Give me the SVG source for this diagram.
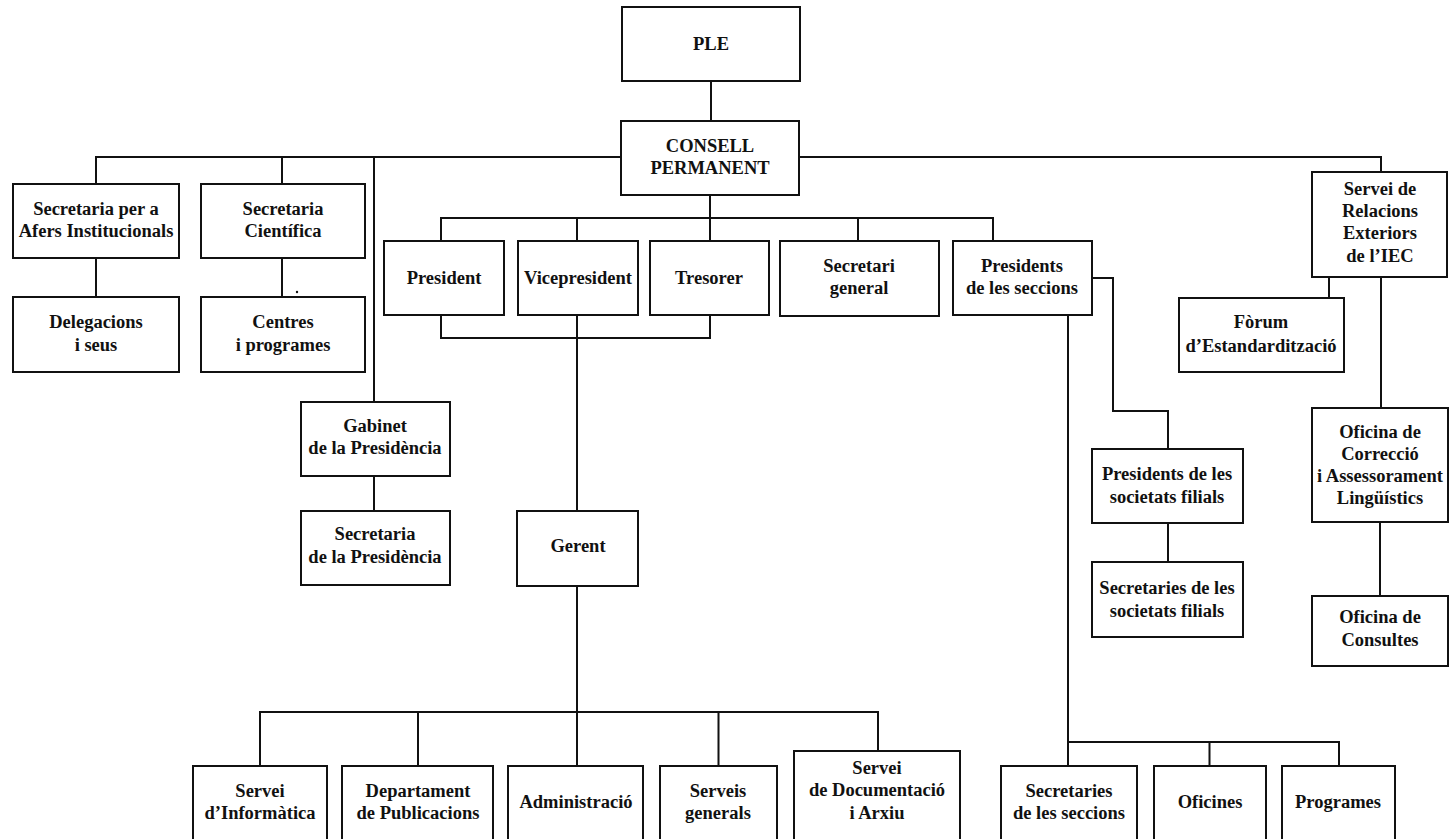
<svg xmlns="http://www.w3.org/2000/svg" width="1451" height="839" viewBox="0 0 1451 839">
<style>
.box{fill:#fff;stroke:#111;stroke-width:2}
.c{fill:none;stroke:#111;stroke-width:2}
text{font-family:"Liberation Serif","Times New Roman",serif;font-weight:bold;font-size:18.5px;text-anchor:middle;fill:#111}
</style>
<rect width="1451" height="839" fill="#fff"/>
<g id="connectors">
<path class="c" d="M711 81V121"/>
<path class="c" d="M96 184V157H621M282 157V184M374 157V402"/>
<path class="c" d="M799 157H1381V172"/>
<path class="c" d="M96 258V297M282 258V297"/>
<path class="c" d="M374 476V511"/>
<path class="c" d="M710 195V218M441 241V218H993V241M577 218V241M858 218V241M710 218V241"/>
<path class="c" d="M441 315V338H710V315M577 315V511"/>
<path class="c" d="M577 586V712M260 766V712H878V751M418 712V766M577 712V766M718.5 712V766"/>
<path class="c" d="M1068 315V766M1068 742H1339V766M1209.5 742V766"/>
<path class="c" d="M1092 278H1113V411H1168V449M1168 523V562"/>
<path class="c" d="M1329 277V298M1381 277V408M1380 522V596"/>
</g>
<g id="ple"><rect class="box" x="622" y="7" width="178" height="74"/><text x="711" y="50">PLE</text></g>
<g id="consell"><rect class="box" x="621" y="121" width="178" height="74"/><text x="710" y="152">CONSELL</text><text x="710" y="174">PERMANENT</text></g>
<g id="sec-afers"><rect class="box" x="13" y="184" width="166" height="74"/><text x="96" y="215">Secretaria per a</text><text x="96" y="237">Afers Institucionals</text></g>
<g id="sec-cientifica"><rect class="box" x="201" y="184" width="164" height="74"/><text x="283" y="215">Secretaria</text><text x="283" y="237">Científica</text></g>
<g id="delegacions"><rect class="box" x="13" y="297" width="166" height="75"/><text x="96" y="328">Delegacions</text><text x="96" y="351">i seus</text></g>
<g id="centres"><rect class="box" x="201" y="297" width="164" height="75"/><text x="283" y="328">Centres</text><text x="283" y="351">i programes</text><circle cx="297" cy="292" r="1.2" fill="#111"/></g>
<g id="president"><rect class="box" x="384" y="241" width="120" height="74"/><text x="444" y="284">President</text></g>
<g id="vicepresident"><rect class="box" x="518" y="241" width="120" height="74"/><text x="578" y="284">Vicepresident</text></g>
<g id="tresorer"><rect class="box" x="650" y="241" width="119" height="74"/><text x="709" y="284">Tresorer</text></g>
<g id="secretari-general"><rect class="box" x="780" y="241" width="159" height="75"/><text x="859" y="272">Secretari</text><text x="859" y="294">general</text></g>
<g id="presidents-seccions"><rect class="box" x="953" y="241" width="139" height="74"/><text x="1022" y="272">Presidents</text><text x="1022" y="294">de les seccions</text></g>
<g id="servei-relacions"><rect class="box" x="1312" y="172" width="135" height="105"/><text x="1380" y="195">Servei de</text><text x="1380" y="217">Relacions</text><text x="1380" y="239">Exteriors</text><text x="1380" y="262">de l’IEC</text></g>
<g id="forum"><rect class="box" x="1179" y="298" width="165" height="74"/><text x="1261" y="328">Fòrum</text><text x="1261" y="352">d’Estandardització</text></g>
<g id="oficina-correccio"><rect class="box" x="1312" y="408" width="136" height="114"/><text x="1380" y="438">Oficina de</text><text x="1380" y="460">Correcció</text><text x="1380" y="482">i Assessorament</text><text x="1380" y="504">Lingüístics</text></g>
<g id="oficina-consultes"><rect class="box" x="1312" y="596" width="136" height="70"/><text x="1380" y="623">Oficina de</text><text x="1380" y="646">Consultes</text></g>
<g id="gabinet"><rect class="box" x="301" y="402" width="149" height="74"/><text x="375" y="432">Gabinet</text><text x="375" y="454">de la Presidència</text></g>
<g id="sec-presidencia"><rect class="box" x="301" y="511" width="149" height="74"/><text x="375" y="540">Secretaria</text><text x="375" y="563">de la Presidència</text></g>
<g id="gerent"><rect class="box" x="517" y="511" width="121" height="75"/><text x="578" y="552">Gerent</text></g>
<g id="presidents-societats"><rect class="box" x="1092" y="449" width="151" height="74"/><text x="1167" y="480">Presidents de les</text><text x="1167" y="503">societats filials</text></g>
<g id="secretaries-societats"><rect class="box" x="1092" y="562" width="151" height="75"/><text x="1167" y="594">Secretaries de les</text><text x="1167" y="617">societats filials</text></g>
<g id="informatica"><rect class="box" x="193" y="766" width="134" height="80"/><text x="260" y="797">Servei</text><text x="260" y="819">d’Informàtica</text></g>
<g id="publicacions"><rect class="box" x="342" y="766" width="151" height="80"/><text x="418" y="797">Departament</text><text x="418" y="819">de Publicacions</text></g>
<g id="administracio"><rect class="box" x="508" y="766" width="135" height="80"/><text x="576" y="808">Administració</text></g>
<g id="serveis-generals"><rect class="box" x="660" y="766" width="117" height="80"/><text x="718" y="797">Serveis</text><text x="718" y="819">generals</text></g>
<g id="documentacio"><rect class="box" x="794" y="751" width="166" height="95"/><text x="877" y="774">Servei</text><text x="877" y="796">de Documentació</text><text x="877" y="819">i Arxiu</text></g>
<g id="secretaries-seccions"><rect class="box" x="1001" y="766" width="136" height="80"/><text x="1069" y="797">Secretaries</text><text x="1069" y="819">de les seccions</text></g>
<g id="oficines"><rect class="box" x="1154" y="766" width="112" height="80"/><text x="1210" y="808">Oficines</text></g>
<g id="programes"><rect class="box" x="1282" y="766" width="113" height="80"/><text x="1338" y="808">Programes</text></g>
</svg>
